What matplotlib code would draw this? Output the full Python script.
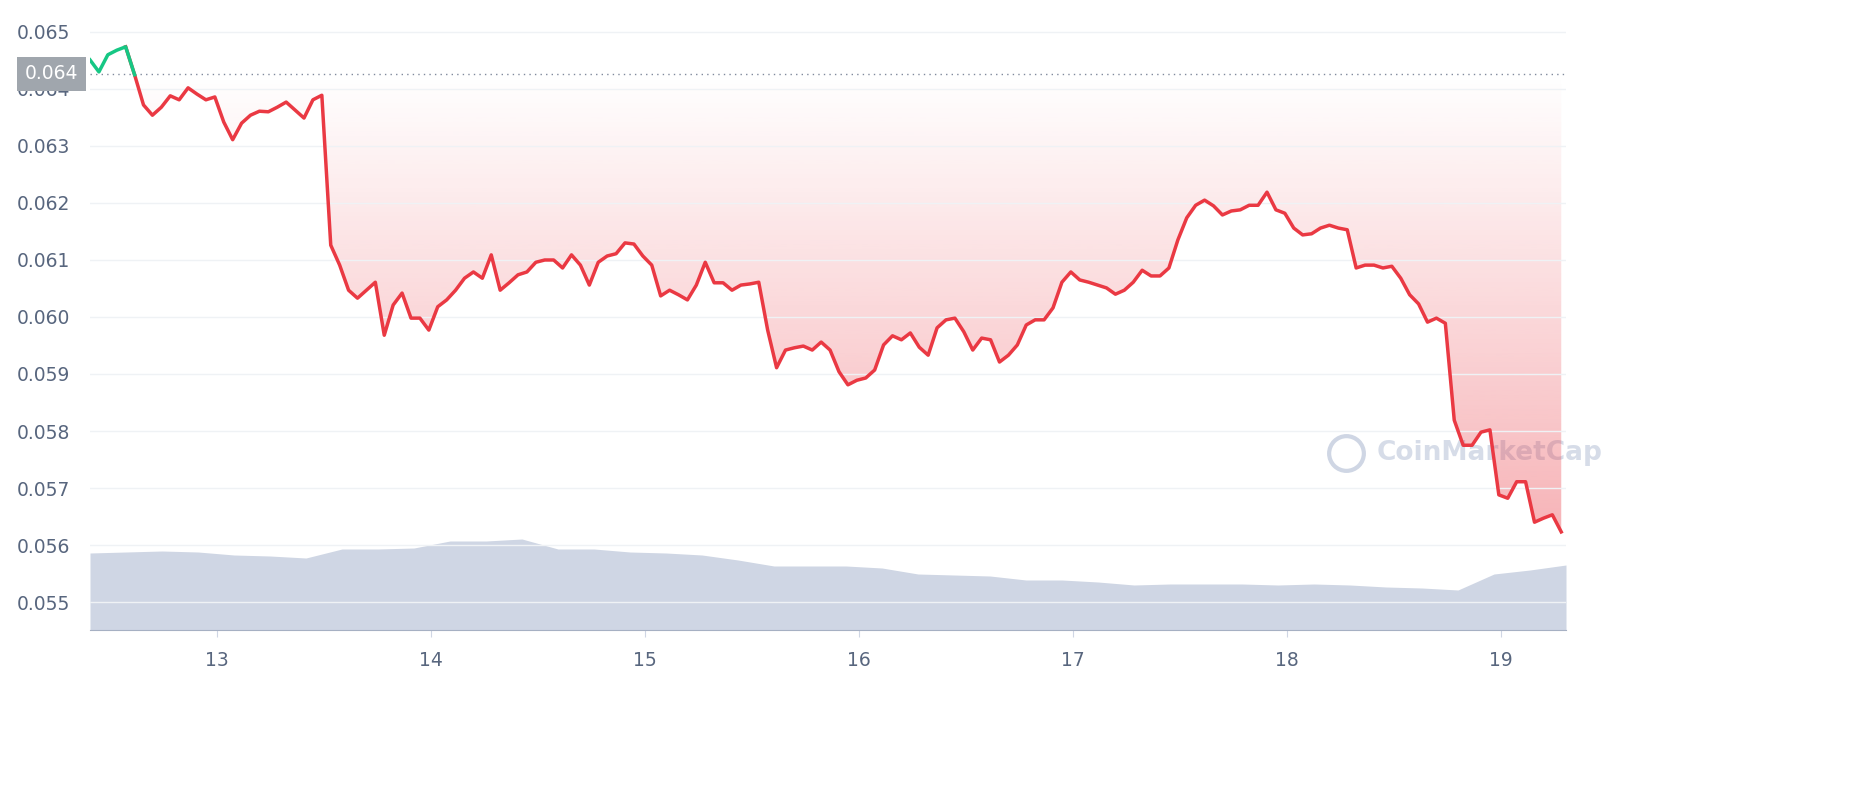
import numpy as np
import matplotlib
matplotlib.use("Agg")
import matplotlib.pyplot as plt

# hourly price, starting 12.4065 (day of month)
start_day = 12.4065
prices = [
    0.06451, 0.06430, 0.06460, 0.06468, 0.06474, 0.06425, 0.06372, 0.06354, 0.06368, 0.06388,
    0.06381, 0.06402, 0.06391, 0.06381, 0.06386, 0.06342, 0.06311, 0.06340, 0.06354, 0.06361,
    0.06360, 0.06368, 0.06377, 0.06363, 0.06349, 0.06381, 0.06389, 0.06126, 0.06091, 0.06047,
    0.06033, 0.06047, 0.06061, 0.05968, 0.06021, 0.06042, 0.05998, 0.05998, 0.05977, 0.06018,
    0.06030, 0.06047, 0.06068, 0.06079, 0.06068, 0.06109, 0.06047, 0.06060, 0.06074, 0.06079,
    0.06096, 0.06100, 0.06100, 0.06086, 0.06109, 0.06091, 0.06056, 0.06096, 0.06107, 0.06111,
    0.06130, 0.06128, 0.06107, 0.06091, 0.06037, 0.06047, 0.06039, 0.06030, 0.06056, 0.06096,
    0.06060, 0.06060, 0.06047, 0.06056, 0.06058, 0.06061, 0.05977, 0.05911, 0.05942, 0.05946,
    0.05949, 0.05942, 0.05956, 0.05942, 0.05904, 0.05881, 0.05889, 0.05893, 0.05907, 0.05951,
    0.05967, 0.05960, 0.05972, 0.05947, 0.05933, 0.05981, 0.05995, 0.05998, 0.05974, 0.05942,
    0.05963, 0.05960, 0.05921, 0.05933, 0.05951, 0.05986, 0.05995, 0.05995, 0.06016, 0.06061,
    0.06079, 0.06065, 0.06061, 0.06056, 0.06051, 0.06040, 0.06047, 0.06061, 0.06082, 0.06072,
    0.06072, 0.06086, 0.06135, 0.06174, 0.06196, 0.06205, 0.06195, 0.06179, 0.06186, 0.06188,
    0.06196, 0.06196, 0.06219, 0.06188, 0.06182, 0.06156, 0.06144, 0.06146, 0.06156, 0.06161,
    0.06156, 0.06153, 0.06086, 0.06091, 0.06091, 0.06086, 0.06089, 0.06068, 0.06039, 0.06023,
    0.05991, 0.05998, 0.05989, 0.05819, 0.05775, 0.05775, 0.05798, 0.05802, 0.05688, 0.05682,
    0.05711, 0.05711, 0.05640, 0.05647, 0.05653, 0.05623,
]
# 4-hourly volume (relative units)
volumes = [
    77, 78, 79, 78, 75, 74, 72, 81, 81, 82, 89, 89, 91, 81, 81, 78, 77, 75, 70, 64,
    64, 64, 62, 56, 55, 54, 50, 50, 48, 45, 46, 46, 46, 45, 46, 45, 43, 42, 40, 56,
    60, 65,
]
ref_price = 0.064263
y_ticks = [0.055, 0.056, 0.057, 0.058, 0.059, 0.060, 0.061, 0.062, 0.063, 0.064, 0.065]
x_ticks = [13, 14, 15, 16, 17, 18, 19]

RED = "#ea3943"
GREEN = "#16c784"
GREY = "#58667e"

prices = np.array(prices)
t = start_day + np.arange(len(prices)) / 24
x_end = 19.3037
tv = np.linspace(start_day, x_end, len(volumes))

fig = plt.figure(figsize=(18.58, 8), dpi=100)
ax = fig.add_axes([90 / 1858, 170 / 800, 1476 / 1858, 630 / 800])
ax2 = ax.twinx()
ax.set_zorder(ax2.get_zorder() + 1)
ax.patch.set_visible(False)

ax2.fill_between(tv, volumes, color="#cfd6e4", lw=0)
ax2.set_ylim(0, 630)
ax2.set_yticks([])
for s in ax2.spines.values():
    s.set_visible(False)

ax.set_ylim(0.054509, 0.065561)
ax.set_xlim(start_day, x_end)

# gradient fill between reference and price
rgba = np.zeros((256, 1, 4))
rgba[..., :3] = matplotlib.colors.to_rgb(RED)
rgba[..., 3] = np.linspace(0.38, 0.0, 256).reshape(-1, 1)
img = ax.imshow(rgba, extent=[start_day, x_end, prices.min(), ref_price],
                aspect="auto", origin="lower", zorder=1)
poly = ax.fill_between(t, prices, ref_price, where=prices <= ref_price,
                       interpolate=True, color="none", lw=0)
img.set_clip_path(poly.get_paths()[0], transform=ax.transData)

ax.plot(t[4:], prices[4:], color=RED, lw=2.5, zorder=3)
ax.plot(t[:6], prices[:6], color=GREEN, lw=2.5, zorder=3)
ax.axhline(ref_price, color="#808a9d", lw=1, ls=(0, (1, 3)), zorder=2)

ax.set_yticks(y_ticks)
ax.set_yticklabels([f"{v:.3f}" for v in y_ticks])
ax.set_xticks(x_ticks)
ax.grid(axis="y", color="#eff2f5", lw=1)
ax.tick_params(axis="y", length=0, labelsize=13.5, colors=GREY, pad=14)
ax.tick_params(axis="x", length=5, labelsize=13.5, colors=GREY, pad=10, color="#cfd6e4")
for k in ["top", "right", "left"]:
    ax.spines[k].set_visible(False)
ax.spines["bottom"].set_color("#a6b0c3")

ax.text(-0.026, ref_price, "0.064", transform=ax.get_yaxis_transform(),
        ha="center", va="center", color="white", fontsize=13.5, zorder=5,
        bbox=dict(boxstyle="square,pad=0.4", fc="#a0a6ad", ec="none"))

# watermark
ax.text(0.872, 1 - 453 / 630, "CoinMarketCap", transform=ax.transAxes, fontsize=19,
        color="#cfd6e4", fontweight="bold", va="center", ha="left", zorder=0, alpha=0.85)
ax.plot([0.851], [1 - 453 / 630], transform=ax.transAxes, marker="o", ms=25,
        mfc="none", mec="#cfd6e4", mew=3, zorder=0)

fig.savefig("out.png", dpi=100)
